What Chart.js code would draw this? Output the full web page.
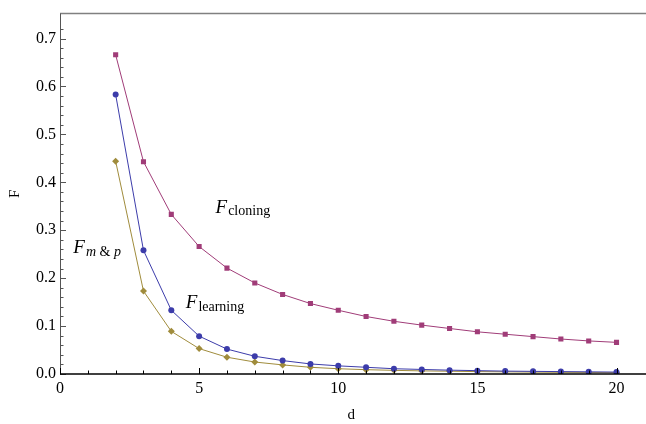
<!DOCTYPE html>
<html>
<head>
<meta charset="utf-8">
<script src="https://cdn.jsdelivr.net/npm/chart.js@4/dist/chart.umd.min.js"></script>
<style>
  html, body { margin: 0; padding: 0; background: #fff; }
  #wrap { width: 646px; height: 424px; }
</style>
</head>
<body>
<div id="wrap"><canvas id="fChart" width="646" height="424"></canvas></div>
<script>
// values
const dims = [2, 3, 4, 5, 6, 7, 8, 9, 10, 11, 12, 13, 14, 15, 16, 17, 18, 19, 20]
const cloning = [0.666, 0.443, 0.333, 0.266, 0.221, 0.190, 0.166, 0.147, 0.133, 0.120, 0.110, 0.102, 0.095, 0.088, 0.083, 0.078, 0.073, 0.069, 0.066]
const learning = [0.583, 0.258, 0.133, 0.079, 0.052, 0.037, 0.028, 0.021, 0.017, 0.014, 0.011, 0.0095, 0.008, 0.007, 0.006, 0.0055, 0.005, 0.0045, 0.004]
const mandp = [0.444, 0.173, 0.089, 0.053, 0.035, 0.025, 0.019, 0.014, 0.011, 0.009, 0.0076, 0.0065, 0.0058, 0.005, 0.0045, 0.004, 0.0035, 0.0032, 0.0029]
const xTicks = [0, 5, 10, 15, 20]
const yTicks = [0, 0.1, 0.2, 0.3, 0.4, 0.5, 0.6, 0.7]

const serif = "'Liberation Serif', 'DejaVu Serif', serif"

function points(ys) {
    return dims.map((d, i) => ({ x: d, y: ys[i] }))
}

function series(ys, color, style, radius) {
    return {
        data: points(ys),
        showLine: true,
        borderColor: color,
        backgroundColor: color,
        borderWidth: 1,
        pointStyle: style,
        pointRadius: radius,
        pointHoverRadius: radius,
        pointBorderWidth: 0
    }
}

// curve labels, anchored in data coordinates (baseline of the big F)
const curveLabels = [
    { x: 5.59, y: 0.336, parts: [["cloning", "normal"]] },
    { x: 4.52, y: 0.137, parts: [["learning", "normal"]] },
    { x: 0.48, y: 0.252, parts: [["m", "italic"], [" & ", "normal"], ["p", "italic"]] }
]

const frame = {
    id: "frame",
    afterDraw(chart) {
        const ctx = chart.ctx
        const area = chart.chartArea
        const xs = chart.scales.x
        const ys = chart.scales.y
        ctx.save()

        // top border
        ctx.strokeStyle = "#808080"
        ctx.lineWidth = 1.5
        ctx.beginPath()
        ctx.moveTo(area.left, area.top)
        ctx.lineTo(chart.width, area.top)
        ctx.stroke()

        // left axis
        ctx.strokeStyle = "#555"
        ctx.lineWidth = 1
        ctx.beginPath()
        ctx.moveTo(area.left + 0.5, area.top)
        ctx.lineTo(area.left + 0.5, area.bottom)
        ctx.stroke()

        // inward ticks on y
        for (let v = 0; v <= 0.74; v += 0.02) {
            const major = Math.round(v * 100) % 10 === 0
            const py = Math.round(ys.getPixelForValue(v)) + 0.5
            ctx.beginPath()
            ctx.moveTo(area.left, py)
            ctx.lineTo(area.left + (major ? 6 : 3.5), py)
            ctx.stroke()
        }

        // bottom axis
        ctx.strokeStyle = "#000"
        ctx.lineWidth = 1.5
        ctx.beginPath()
        ctx.moveTo(area.left, area.bottom)
        ctx.lineTo(chart.width, area.bottom)
        ctx.stroke()

        ctx.lineWidth = 1
        for (let v = 0; v <= 20; v++) {
            const major = v % 5 === 0
            const px = Math.round(xs.getPixelForValue(v)) + 0.5
            ctx.beginPath()
            ctx.moveTo(px, area.bottom)
            ctx.lineTo(px, area.bottom - (major ? 6 : 3.5))
            ctx.stroke()
        }

        // curve labels
        ctx.fillStyle = "#000"
        ctx.textBaseline = "alphabetic"
        curveLabels.forEach(l => {
            let px = xs.getPixelForValue(l.x)
            const py = ys.getPixelForValue(l.y)
            ctx.font = "italic 19px " + serif
            ctx.fillText("F", px, py)
            px += ctx.measureText("F").width + 1
            l.parts.forEach(p => {
                ctx.font = p[1] + " 14px " + serif
                ctx.fillText(p[0], px, py + 2.5)
                px += ctx.measureText(p[0]).width
            })
        })
        ctx.restore()
    }
}

const fChart = new Chart(
    document.getElementById("fChart"),
    {
        type: "scatter",
        data: {
            datasets: [
                series(cloning, "rgb(160,60,120)", "rect", 3.6),
                series(learning, "rgb(60,60,170)", "circle", 3),
                series(mandp, "rgb(160,140,60)", "rectRot", 3.5)
            ]
        },
        options: {
            responsive: false,
            animation: false,
            devicePixelRatio: 1,
            layout: { padding: { top: 9, right: 0, left: 0, bottom: 0 } },
            plugins: {
                legend: { display: false },
                tooltip: { enabled: false }
            },
            scales: {
                x: {
                    type: "linear",
                    min: 0,
                    max: 20.93,
                    border: { display: false },
                    grid: { display: false, drawTicks: false },
                    afterBuildTicks: s => { s.ticks = xTicks.map(v => ({ value: v })) },
                    afterFit: s => { s.height = 50 },
                    ticks: {
                        padding: 5,
                        color: "#000",
                        font: { family: serif, size: 16 },
                        callback: v => String(v)
                    },
                    title: {
                        display: true,
                        text: "d",
                        color: "#000",
                        font: { family: serif, size: 15 },
                        padding: { top: 0, bottom: 0 }
                    }
                },
                y: {
                    type: "linear",
                    min: 0,
                    max: 0.752,
                    border: { display: false },
                    grid: { display: false, drawTicks: false },
                    afterBuildTicks: s => { s.ticks = yTicks.map(v => ({ value: v })) },
                    afterFit: s => { s.width = 60 },
                    ticks: {
                        padding: 4,
                        color: "#000",
                        font: { family: serif, size: 16 },
                        callback: v => v.toFixed(1)
                    },
                    title: {
                        display: true,
                        text: "F",
                        color: "#000",
                        font: { family: serif, size: 15 },
                        padding: { top: 6, bottom: 0 }
                    }
                }
            }
        },
        plugins: [frame]
    }
)
</script>
</body>
</html>
